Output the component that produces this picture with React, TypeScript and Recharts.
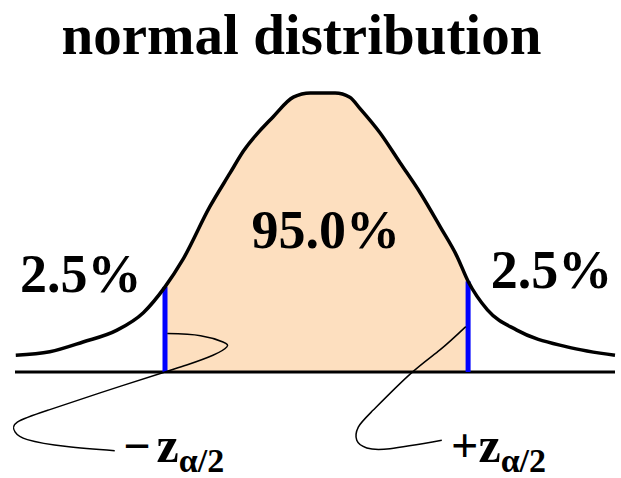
import React from 'react'
import { ComposedChart, Area, Line, XAxis, YAxis, ReferenceLine, ReferenceDot } from 'recharts'

// bell curve (z on x, height on y)
const curveZ = [-3.89, -3.45, -3.02, -2.58, -2.24, -1.96, -1.73, -1.38, -1.12, -0.95, -0.56, -0.3, -0.08, 0.24, 0.43, 0.56, 0.82, 1.08, 1.34, 1.6, 1.82, 1.96, 2.21, 2.59, 3.24, 3.86]
const curveD = [0.024, 0.029, 0.043, 0.06, 0.085, 0.122, 0.161, 0.237, 0.285, 0.316, 0.366, 0.394, 0.4, 0.4, 0.394, 0.378, 0.343, 0.3, 0.257, 0.208, 0.165, 0.13, 0.089, 0.06, 0.036, 0.024]

const critical = [-1.96, 1.96]

// hand drawn leader lines from the z labels to the cut-off lines
const leftLeaderZ = [-1.93, -1.5, -1.21, -1.16, -1.34, -1.68, -1.99, -2.8, -3.45, -3.87, -3.9, -3.74, -3.23, -2.61]
const leftLeaderD = [0.055, 0.052, 0.043, 0.036, 0.024, 0.01, -0.001, -0.03, -0.054, -0.072, -0.086, -0.097, -0.107, -0.113]
const rightLeaderZ = [1.93, 1.6, 1.21, 0.73, 0.54, 0.52, 0.65, 0.95, 1.62]
const rightLeaderD = [0.065, 0.032, -0.003, -0.055, -0.079, -0.098, -0.109, -0.11, -0.098]

const tailLabel = '2.5%'
const midLabel = '95.0%'

const data = curveZ.map((z, i) => ({
  z,
  d: curveD[i],
  mid: z >= critical[0] && z <= critical[1] ? curveD[i] : null,
}))
const leftLeader = leftLeaderZ.map((z, i) => ({ z, d: leftLeaderD[i] }))
const rightLeader = rightLeaderZ.map((z, i) => ({ z, d: rightLeaderD[i] }))

const serif = '"Liberation Serif", "Times New Roman", serif'

const BigText = (text: string) => (props: any) => (
  <text x={props.cx} y={props.cy} textAnchor="middle" fontFamily={serif} fontWeight="bold" fontSize={54} fill="#000">
    {text}
  </text>
)

const ZText = (sign: string) => (props: any) => (
  <text x={props.cx} y={props.cy} fontFamily={serif} fontWeight="bold" fill="#000">
    <tspan fontSize={48}>{sign}</tspan>
    <tspan fontSize={50} dx={sign === '−' ? 6 : 0}>z</tspan>
    <tspan fontSize={34} dy={10}>α/2</tspan>
  </text>
)

export default function App() {
  const topAt = (z: number) => curveD[curveZ.indexOf(z)]
  return (
    <div style={{ position: 'absolute', left: 0, top: 0, width: 621, height: 478, background: '#fff' }}>
      <div
        style={{
          position: 'absolute',
          left: 0,
          top: 6,
          width: 603,
          textAlign: 'center',
          fontFamily: serif,
          fontWeight: 'bold',
          fontSize: 57,
          lineHeight: 1,
        }}
      >
        normal distribution
      </div>
      <ComposedChart width={621} height={478} data={data} margin={{ top: 93, right: 6, bottom: 1.4, left: 15 }}>
        <XAxis dataKey="z" type="number" domain={[-3.9, 3.86]} hide />
        <YAxis type="number" domain={[-0.15, 0.4]} hide />
        <Area dataKey="mid" type="monotone" fill="#FDDFBF" fillOpacity={1} stroke="none" baseValue={0} isAnimationActive={false} />
        <ReferenceLine y={0} stroke="#000" strokeWidth={3} />
        {critical.map((z) => (
          <ReferenceLine
            key={z}
            segment={[{ x: z, y: 0 }, { x: z, y: topAt(z) }]}
            stroke="#0000FF"
            strokeWidth={5}
          />
        ))}
        <Line dataKey="d" type="monotone" stroke="#000" strokeWidth={3.5} dot={false} isAnimationActive={false} />
        <Line data={leftLeader} dataKey="d" type="natural" stroke="#000" strokeWidth={1.5} dot={false} isAnimationActive={false} />
        <Line data={rightLeader} dataKey="d" type="natural" stroke="#000" strokeWidth={1.5} dot={false} isAnimationActive={false} />
        <ReferenceDot x={-3.05} y={0.115} r={0} shape={BigText(tailLabel)} />
        <ReferenceDot x={3.04} y={0.12} r={0} shape={BigText(tailLabel)} />
        <ReferenceDot x={0.12} y={0.178} r={0} shape={BigText(midLabel)} />
        <ReferenceDot x={-2.5} y={-0.129} r={0} shape={ZText('−')} />
        <ReferenceDot x={1.74} y={-0.129} r={0} shape={ZText('+')} />
      </ComposedChart>
    </div>
  )
}
